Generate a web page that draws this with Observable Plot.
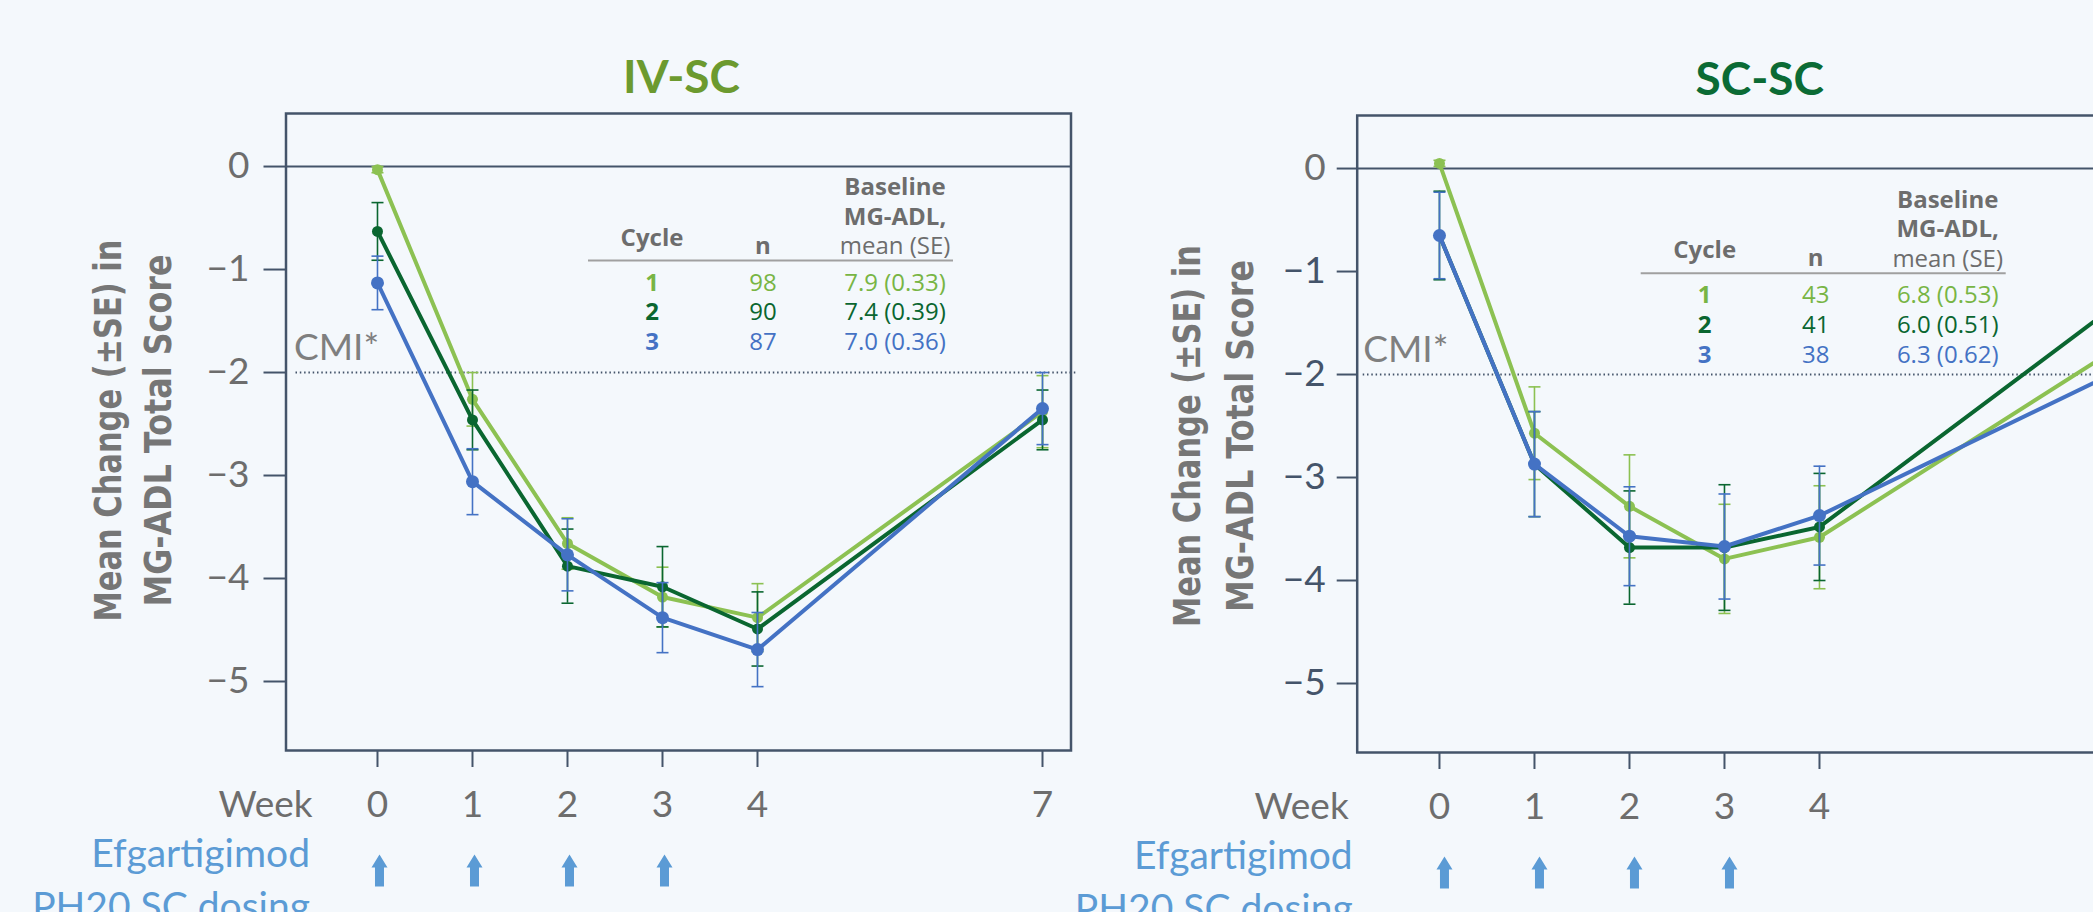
<!DOCTYPE html>
<html><head><meta charset="utf-8">
<script src="https://cdn.jsdelivr.net/npm/d3@7"></script>
<script src="https://cdn.jsdelivr.net/npm/@observablehq/plot@0.6"></script>
<style>
html,body{margin:0;padding:0;overflow:hidden;background:#f4f8fc;}
#page{position:relative;width:2093px;height:912px;overflow:hidden;background:#f4f8fc;}
.panel{position:absolute;width:1100px;height:912px;}
</style></head><body><div id="page"></div>
<script>
// ---------- data ----------
const weeks = [0, 1, 2, 3, 4, 7];
const dosingWeeks = [0, 1, 2, 3];
const cycles = ["1", "2", "3"];
const yTicks = [0, -1, -2, -3, -4, -5];
const yTickLabels = ["0", "−1", "−2", "−3", "−4", "−5"];
const cmi = -2;
const yTitle1 = "Mean Change (±SE) in";
const yTitle2 = "MG-ADL Total Score";
const doseLabel = "Efgartigimod\nPH20 SC dosing";
const tableHead = ["Cycle", "n", "Baseline", "MG-ADL,", "mean (SE)"];

const ivscTitle = "IV-SC";
const ivscN = ["98", "90", "87"];
const ivscBaseline = ["7.9 (0.33)", "7.4 (0.39)", "7.0 (0.36)"];
const ivscMeanC1 = [-0.03, -2.26, -3.66, -4.18, -4.38, -2.38];
const ivscSeC1   = [0.03, 0.26, 0.25, 0.29, 0.33, 0.35];
const ivscMeanC2 = [-0.63, -2.46, -3.88, -4.08, -4.49, -2.46];
const ivscSeC2   = [0.28, 0.29, 0.36, 0.39, 0.36, 0.29];
const ivscMeanC3 = [-1.13, -3.06, -3.77, -4.38, -4.69, -2.35];
const ivscSeC3   = [0.26, 0.32, 0.35, 0.34, 0.36, 0.35];

const scscTitle = "SC-SC";
const scscN = ["43", "41", "38"];
const scscBaseline = ["6.8 (0.53)", "6.0 (0.51)", "6.3 (0.62)"];
const scscMeanC1 = [0.05, -2.57, -3.28, -3.79, -3.58, -1.82];
const scscSeC1   = [0.03, 0.45, 0.50, 0.53, 0.50, 0.40];
const scscMeanC2 = [-0.65, -2.87, -3.68, -3.68, -3.48, -1.41];
const scscSeC2   = [0.43, 0.51, 0.55, 0.61, 0.52, 0.40];
const scscMeanC3 = [-0.65, -2.87, -3.57, -3.67, -3.37, -2.03];
const scscSeC3   = [0.42, 0.51, 0.48, 0.51, 0.48, 0.40];

// ---------- styles ----------
const lineColors = ["#8cc152", "#0a6630", "#4472c4"];
const textColors = ["#78b544", "#0a6630", "#4472c4"];
const dotR = [5.5, 5.5, 6.5];
const frameColor = "#44546a";
const gray = "#6d6d6d";
const armColor = "#5b9bd5";
const tableFont = "Open Sans";
const tableSize = 24;
const yDomain = [-5.67, 0.515];
const frameW = 785;

const capSymbol = {draw(ctx, size) { const w = Math.sqrt(size / Math.PI); ctx.moveTo(-w, 0); ctx.lineTo(w, 0); }};
const arrowShape = {draw(ctx, l) {
  const hw = 8, sw = 4.5, hh = 13;
  ctx.moveTo(-sw, 0); ctx.lineTo(-sw, hh - l); ctx.lineTo(-hw, hh - l); ctx.lineTo(0, -l);
  ctx.lineTo(hw, hh - l); ctx.lineTo(sw, hh - l); ctx.lineTo(sw, 0); ctx.closePath();
}};

function makePanel(cfg) {
  const rows = [];
  cycles.forEach((c, s) => weeks.forEach((w, i) => {
    const m = cfg.means[s][i], e = cfg.ses[s][i];
    rows.push({cycle: c, week: w, mean: m, lo: m - e, hi: m + e});
  }));
  const [tx, ty] = cfg.tableShift;
  const tOpt = (dx, dy, extra) => ({frameAnchor: "top-left", dx: dx + tx, dy: dy + ty, textAnchor: "middle", lineAnchor: "bottom", fontFamily: tableFont, fontSize: tableSize, ...extra});
  const marks = [
    Plot.frame({stroke: frameColor, strokeWidth: 2.5}),
    Plot.ruleY([0], {stroke: frameColor, strokeWidth: 2}),
    Plot.ruleY([cmi], {stroke: frameColor, strokeWidth: 2, strokeDasharray: "1.5,2.8", insetLeft: cfg.cmiInset, insetRight: -7}),
    Plot.text([cmi], {y: d => d, text: () => "CMI*", frameAnchor: "left", dx: cfg.cmiDx, dy: -13, textAnchor: "start", lineAnchor: "bottom", fontSize: 37, fill: "#7f7f7f"}),
    Plot.text([cfg.title], {frameAnchor: "top", dx: cfg.titleDx, dy: -21, textAnchor: "middle", lineAnchor: "bottom", fontSize: 46, fontWeight: "bold", fill: cfg.titleColor}),
    Plot.text([yTitle1], {frameAnchor: "left", dx: cfg.yt1Dx, dy: cfg.ytDy, rotate: -90, textAnchor: "middle", fontFamily: "DejaVu Sans", fontWeight: "bold", fontSize: 37, fill: "#767676"}),
    Plot.text([yTitle2], {frameAnchor: "left", dx: cfg.yt2Dx, dy: cfg.ytDy, rotate: -90, textAnchor: "middle", fontFamily: "DejaVu Sans", fontWeight: "bold", fontSize: 37, fill: "#767676"}),
    Plot.axisX({ticks: weeks, tickSize: 17, tickPadding: 23, fontSize: 37, stroke: frameColor, strokeWidth: 2, fill: gray, label: null, tickFormat: d => String(d)}),
    Plot.text(["Week"], {frameAnchor: "bottom-left", dx: cfg.weekDx, dy: 66.7, textAnchor: "end", lineAnchor: "bottom", fontSize: 37, fill: gray}),
    Plot.text([doseLabel], {frameAnchor: "bottom-left", dx: cfg.doseDx, dy: 169, textAnchor: "end", lineAnchor: "bottom", lineHeight: 53 / 39, fontSize: 39, fill: armColor}),
    Plot.vector(dosingWeeks, {x: d => d, frameAnchor: "bottom", dx: cfg.arrowDx, dy: 136, length: 32, rotate: 0, anchor: "start", shape: arrowShape, fill: armColor, stroke: "none"}),
    // table
    Plot.text([tableHead[0]], tOpt(366, 132, {fontWeight: "bold", fill: gray})),
    Plot.text([tableHead[1]], tOpt(477, 140, {fontWeight: "bold", fill: gray})),
    Plot.text([tableHead[2]], tOpt(609, 81.3, {fontWeight: "bold", fill: gray})),
    Plot.text([tableHead[3]], tOpt(609, 111, {fontWeight: "bold", fill: gray})),
    Plot.text([tableHead[4]], tOpt(609, 140.3, {fill: gray})),
    Plot.ruleY([0], {dy: 94 + ty, insetLeft: 302.5 + tx, insetRight: frameW - 667.5 - tx, stroke: "#a0a0a0", strokeWidth: 2})
  ];
  cycles.forEach((c, i) => {
    const dy = 177 + i * 29.8;
    marks.push(Plot.text([c], tOpt(366, dy, {fontWeight: "bold", fill: textColors[i]})));
    marks.push(Plot.text([cfg.n[i]], tOpt(477, dy, {fill: textColors[i]})));
    marks.push(Plot.text([cfg.baseline[i]], tOpt(609, dy, {fill: textColors[i]})));
  });
  // y axis (tick label colours per tick)
  const groups = d3.groups(yTicks.map((t, i) => ({t, col: cfg.yTickColors[i]})), d => d.col);
  for (const [col, items] of groups) {
    marks.push(Plot.axisY({ticks: items.map(d => d.t), tickSize: cfg.yTickSize, tickPadding: cfg.yTickPad, fontSize: 37, stroke: frameColor, strokeWidth: 2, fill: col, label: null, tickFormat: d => yTickLabels[yTicks.indexOf(d)]}));
  }
  // series
  cycles.forEach((c, s) => {
    const d = rows.filter(r => r.cycle === c);
    marks.push(Plot.ruleX(d, {x: "week", y1: "lo", y2: "hi", stroke: lineColors[s], strokeWidth: 1.6}));
    marks.push(Plot.dot(d, {x: "week", y: "lo", symbol: capSymbol, r: 6, stroke: lineColors[s], strokeWidth: 1.6, fill: "none"}));
    marks.push(Plot.dot(d, {x: "week", y: "hi", symbol: capSymbol, r: 6, stroke: lineColors[s], strokeWidth: 1.6, fill: "none"}));
    marks.push(Plot.line(d, {x: "week", y: "mean", stroke: lineColors[s], strokeWidth: 4}));
    marks.push(Plot.dot(d, {x: "week", y: "mean", r: dotR[s], fill: lineColors[s], stroke: "none"}));
  });
  const svg = Plot.plot({
    width: 1100, height: 912,
    marginLeft: cfg.ml, marginRight: 1100 - cfg.ml - frameW, marginTop: 113, marginBottom: 162,
    x: {domain: cfg.xDomain, label: null},
    y: {domain: yDomain, label: null},
    style: {background: "transparent", maxWidth: "none", overflow: "visible", fontFamily: "Lato", color: gray},
    marks
  });
  d3.select(svg).selectAll("text").filter(function () { return this.textContent === yTitle1; })
    .attr("textLength", 382).attr("lengthAdjust", "spacingAndGlyphs");
  d3.select(svg).selectAll("text").filter(function () { return this.textContent === yTitle2; })
    .attr("textLength", 352).attr("lengthAdjust", "spacingAndGlyphs");
  const div = document.createElement("div");
  div.className = "panel";
  div.style.left = cfg.left + "px";
  div.style.top = cfg.top + "px";
  div.appendChild(svg);
  document.getElementById("page").appendChild(div);
}

makePanel({
  left: 0, top: 0, ml: 285.5, xDomain: [-0.963, 7.3],
  title: ivscTitle, titleColor: "#6c9a2f", titleDx: 3,
  means: [ivscMeanC1, ivscMeanC2, ivscMeanC3], ses: [ivscSeC1, ivscSeC2, ivscSeC3],
  n: ivscN, baseline: ivscBaseline, tableShift: [0, 0],
  cmiInset: 10, cmiDx: 8,
  yt1Dx: -177, yt2Dx: -127, ytDy: -1.5,
  yTickSize: 22, yTickPad: 14.5, yTickColors: [gray, gray, gray, gray, gray, gray],
  weekDx: 26.5, doseDx: 24, arrowDx: 2
});
makePanel({
  left: 1061.8, top: 2, ml: 294.7, xDomain: [-0.866, 7.397],
  title: scscTitle, titleColor: "#0b6b35", titleDx: 10,
  means: [scscMeanC1, scscMeanC2, scscMeanC3], ses: [scscSeC1, scscSeC2, scscSeC3],
  n: scscN, baseline: scscBaseline, tableShift: [-18.5, 10.7],
  cmiInset: 6, cmiDx: 6,
  yt1Dx: -169.5, yt2Dx: -116.5, ytDy: 2,
  yTickSize: 20, yTickPad: 11.5, yTickColors: [gray, frameColor, frameColor, frameColor, frameColor, frameColor],
  weekDx: -8.5, doseDx: -4.5, arrowDx: 5
});
</script></body></html>
